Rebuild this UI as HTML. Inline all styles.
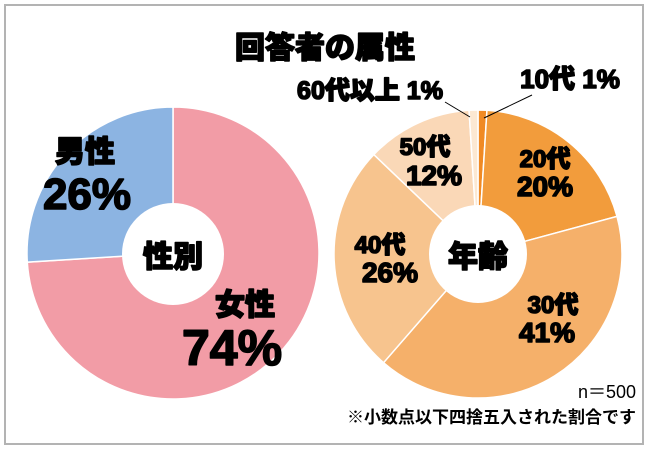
<!DOCTYPE html>
<html><head><meta charset="utf-8">
<style>
body{margin:0;background:#fff;}
svg{display:block;font-family:"Liberation Sans","Noto Sans CJK JP",sans-serif;}
.hv{stroke:#000;stroke-width:1.6;stroke-linejoin:round;}
</style></head>
<body>
<svg id="c" width="650" height="450" viewBox="0 0 650 450">
<rect x="5" y="5" width="638" height="439" fill="#fff" stroke="#b3b3b3" stroke-width="2"/>
<text class="hv" x="325" y="58" text-anchor="middle" font-size="30" font-weight="900">回答者の属性</text>
<g id="g1"></g>
<g id="g2"></g>
<circle cx="173" cy="254" r="51" fill="#fff"/>
<text class="hv" x="173" y="267" text-anchor="middle" font-size="30" font-weight="900">性別</text>
<circle cx="478" cy="254" r="49" fill="#fff"/>
<text class="hv" x="478" y="267" text-anchor="middle" font-size="30" font-weight="900">年齢</text>
<g font-weight="900" fill="#000" class="hv">
<text x="85" y="162" text-anchor="middle" font-size="30">男性</text>
<text x="87" y="209" text-anchor="middle" font-size="44">26%</text>
<text x="245" y="315" text-anchor="middle" font-size="30">女性</text>
<text x="232" y="365" text-anchor="middle" font-size="50">74%</text>
<text x="545" y="167" text-anchor="middle" font-size="24">20代</text>
<text x="545" y="196" text-anchor="middle" font-size="28">20%</text>
<text x="553" y="313" text-anchor="middle" font-size="24">30代</text>
<text x="547" y="342" text-anchor="middle" font-size="28">41%</text>
<text x="380" y="253" text-anchor="middle" font-size="24">40代</text>
<text x="390" y="282" text-anchor="middle" font-size="28">26%</text>
<text x="425" y="155" text-anchor="middle" font-size="24">50代</text>
<text x="434" y="185" text-anchor="middle" font-size="28">12%</text>
<text x="370" y="99" text-anchor="middle" font-size="25">60代以上 1%</text>
<text x="570" y="88" text-anchor="middle" font-size="26">10代 1%</text>
</g>
<line x1="445" y1="102" x2="470" y2="117" stroke="#000" stroke-width="1"/>
<line x1="532" y1="95" x2="484" y2="118" stroke="#000" stroke-width="1"/>
<text x="636" y="398" text-anchor="end" font-size="18">n＝500</text>
<text x="636" y="423" text-anchor="end" font-size="17" font-weight="bold">※小数点以下四捨五入された割合です</text>
</svg>
<script>
const genderCats=["女性","男性"];
const genderVals=[74,26];
const ageCats=["10代","20代","30代","40代","50代","60代以上"];
const ageVals=[1,20,41,26,12,1];
function drawPie(gid,vals,names,colors,cx,cy,r){
  const g=document.getElementById(gid);
  const tot=vals.reduce((a,b)=>a+b,0);
  let a0=0;
  vals.forEach((v,i)=>{
    const a1=a0+v/tot*Math.PI*2;
    const x0=cx+r*Math.sin(a0),y0=cy-r*Math.cos(a0);
    const x1=cx+r*Math.sin(a1),y1=cy-r*Math.cos(a1);
    const p=document.createElementNS("http://www.w3.org/2000/svg","path");
    p.setAttribute("d",`M${cx},${cy}L${x0},${y0}A${r},${r} 0 ${a1-a0>Math.PI?1:0} 1 ${x1},${y1}Z`);
    p.setAttribute("fill",colors[i]);
    p.setAttribute("stroke","#fff");
    p.setAttribute("stroke-width","1.5");
    
    
    g.appendChild(p);
    a0=a1;
  });
}
drawPie("g1",genderVals,genderCats,["#f29ca6","#8cb4e2"],173,253,146);
drawPie("g2",ageVals,ageCats,["#f08a24","#f29c3c","#f5b06a","#f7c48e","#fad8b7","#fce8d2"],478,254,144);
</script>
</body></html>
